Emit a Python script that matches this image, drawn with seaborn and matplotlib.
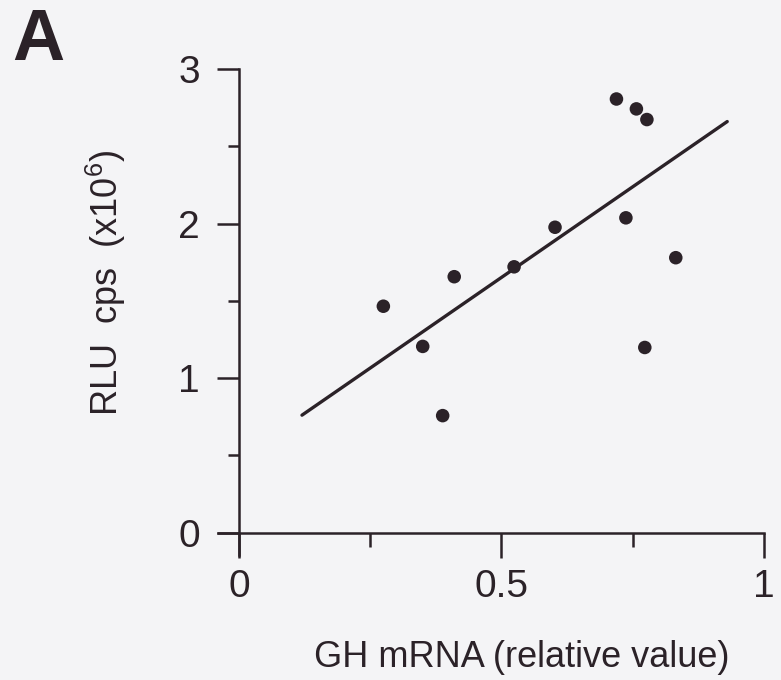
import matplotlib
matplotlib.use("Agg")
import matplotlib.pyplot as plt
import numpy as np
import pandas as pd
import seaborn as sns

# valores
gh_mrna = [0.275, 0.350, 0.410, 0.388, 0.524, 0.602, 0.737, 0.719, 0.757, 0.777, 0.832, 0.773]
rlu_cps = [1.465, 1.205, 1.656, 0.757, 1.720, 1.976, 2.037, 2.806, 2.742, 2.673, 1.779, 1.198]
# recta de ajuste (extremos leidos)
fit_x = [0.12, 0.93]
fit_y = [0.76, 2.66]

x_major = [0, 0.5, 1]
x_minor = [0.25, 0.75]
y_major = [0, 1, 2, 3]
y_minor = [0.5, 1.5, 2.5]

ink = "#2b2228"
paper = "#f4f4f6"

sns.set_theme(style="ticks")
plt.rcParams["font.family"] = ["Liberation Sans", "DejaVu Sans"]
plt.rcParams["mathtext.fontset"] = "custom"
plt.rcParams["mathtext.rm"] = "Liberation Sans"
plt.rcParams["mathtext.default"] = "regular"

df = pd.DataFrame({"gh": gh_mrna, "rlu": rlu_cps})
fit = pd.DataFrame({"x": fit_x, "y": fit_y})

fig = plt.figure(figsize=(7.81, 6.8), dpi=100)
fig.patch.set_facecolor(paper)
ax = fig.add_axes([0.2791, 0.1838, 0.6991, 0.7147])
ax.set_facecolor(paper)

sns.lineplot(data=fit, x="x", y="y", color=ink, linewidth=2.4, ax=ax)
sns.scatterplot(data=df, x="gh", y="rlu", color=ink, s=95, edgecolor="none", ax=ax)

ax.set_xlim(-0.04, 1)
ax.set_ylim(-0.145, 3)
for s in ["top", "right"]:
    ax.spines[s].set_visible(False)
ax.spines["left"].set_position(("data", 0))
ax.spines["bottom"].set_position(("data", 0))
for s in ["left", "bottom"]:
    ax.spines[s].set_color(ink)
    ax.spines[s].set_linewidth(1.8)

ax.set_xticks(x_major)
ax.set_xticklabels(["0", "0.5", "1"])
ax.set_xticks(x_minor, minor=True)
ax.set_yticks(y_major)
ax.set_yticklabels(["0", "1", "2", "3"])
ax.set_yticks(y_minor, minor=True)
ax.tick_params(axis="x", which="major", length=18, width=1.8, color=ink,
               labelsize=28, labelcolor=ink, pad=8)
ax.tick_params(axis="x", which="minor", length=10, width=1.8, color=ink)
ax.tick_params(axis="y", which="major", length=16, width=1.8, color=ink,
               labelsize=28, labelcolor=ink, pad=12)
ax.tick_params(axis="y", which="minor", length=8, width=1.8, color=ink)

ax.set_xlabel("GH mRNA (relative value)", fontsize=26, color=ink)
ax.set_ylabel("RLU  cps  (x10$^6$)", fontsize=26, color=ink)
ax.xaxis.set_label_coords(0.557, -0.175)
ax.yaxis.set_label_coords(-0.165, 0.56)

fig.text(0.016, 0.99, "A", fontsize=52, fontweight="bold", color=ink,
         ha="left", va="top")

fig.savefig("out.png", dpi=100, facecolor=paper)
